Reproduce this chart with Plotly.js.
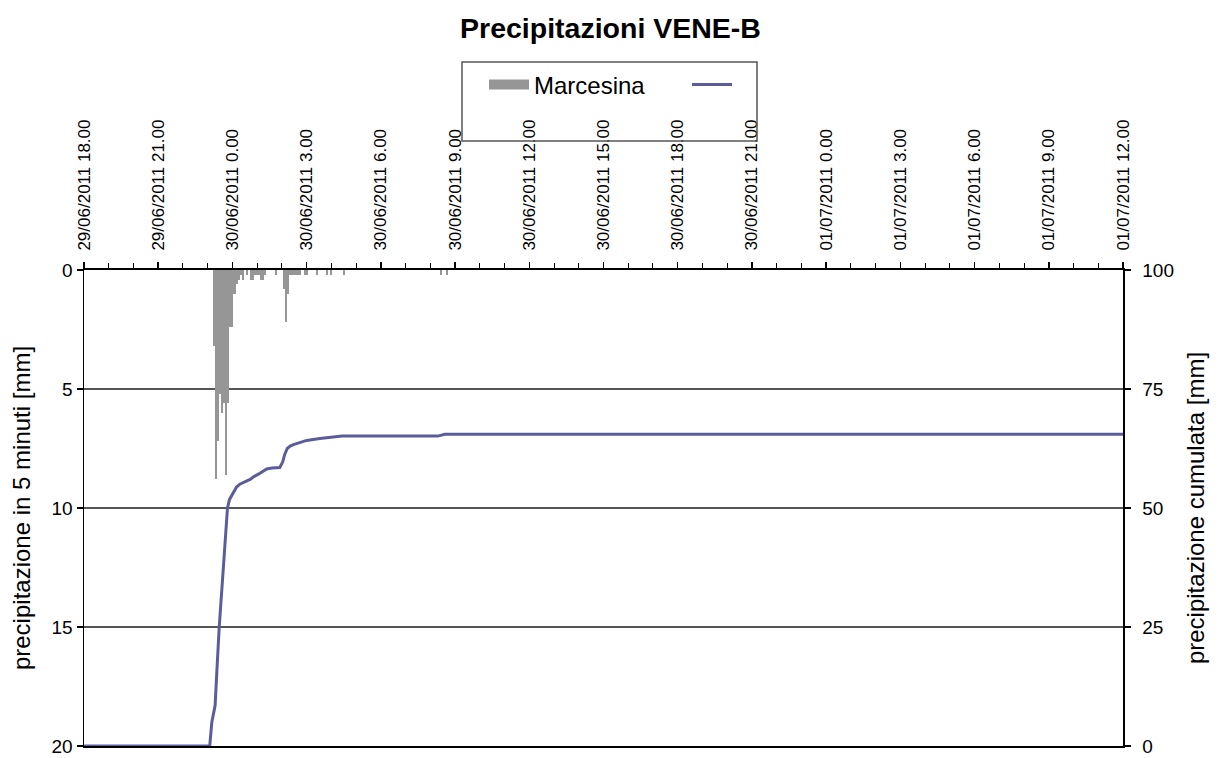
<!DOCTYPE html>
<html><head><meta charset="utf-8">
<script src="https://cdn.plot.ly/plotly-3.0.1.min.js"></script>
<style>html,body{margin:0;padding:0;background:#fff}#chart{width:1221px;height:758px}</style>
</head><body><div id="chart"></div>
<script>
// 5-minute precipitation, Marcesina [mm]
const barTimes = [
  "2011-06-29 23:15","2011-06-29 23:20","2011-06-29 23:25","2011-06-29 23:30","2011-06-29 23:35",
  "2011-06-29 23:40","2011-06-29 23:45","2011-06-29 23:50","2011-06-29 23:55","2011-06-30 00:00",
  "2011-06-30 00:05","2011-06-30 00:10","2011-06-30 00:15","2011-06-30 00:20","2011-06-30 00:25",
  "2011-06-30 00:35","2011-06-30 00:45","2011-06-30 00:50","2011-06-30 00:55","2011-06-30 01:00",
  "2011-06-30 01:05","2011-06-30 01:10","2011-06-30 01:15","2011-06-30 01:20","2011-06-30 01:45",
  "2011-06-30 02:05","2011-06-30 02:10","2011-06-30 02:15","2011-06-30 02:20","2011-06-30 02:25",
  "2011-06-30 02:30","2011-06-30 02:35","2011-06-30 02:40","2011-06-30 02:45","2011-06-30 02:55",
  "2011-06-30 03:00","2011-06-30 03:25","2011-06-30 03:50","2011-06-30 04:00","2011-06-30 04:30",
  "2011-06-30 08:25","2011-06-30 08:40"
];
const barValues = [
  3.2, 8.8, 7.2, 5.2, 6.0,
  5.6, 8.6, 5.6, 2.4, 2.4,
  1.0, 0.6, 0.4, 0.2, 0.4,
  0.2, 0.4, 0.4, 0.2, 0.2,
  0.2, 0.4, 0.4, 0.2, 0.2,
  0.8, 2.2, 1.0, 0.2, 0.2,
  0.2, 0.2, 0.2, 0.2, 0.2,
  0.2, 0.2, 0.2, 0.2, 0.2,
  0.2, 0.2
];

// cumulated precipitation [mm]
const cumTimes = [
  "2011-06-29 18:00","2011-06-29 23:05","2011-06-29 23:10","2011-06-29 23:18","2011-06-29 23:23",
  "2011-06-29 23:28","2011-06-29 23:38","2011-06-29 23:44","2011-06-29 23:48","2011-06-29 23:53",
  "2011-06-30 00:02","2011-06-30 00:10","2011-06-30 00:18","2011-06-30 00:26","2011-06-30 00:35",
  "2011-06-30 00:43","2011-06-30 00:52","2011-06-30 01:03","2011-06-30 01:12","2011-06-30 01:23",
  "2011-06-30 01:36","2011-06-30 01:55","2011-06-30 02:02","2011-06-30 02:07","2011-06-30 02:13",
  "2011-06-30 02:20","2011-06-30 02:28","2011-06-30 02:44","2011-06-30 03:00","2011-06-30 03:32",
  "2011-06-30 03:57","2011-06-30 04:26","2011-06-30 08:18","2011-06-30 08:35","2011-07-01 12:00"
];
const cumValues = [
  0, 0, 5, 8.5, 17,
  25, 37.5, 45, 50, 51.8,
  53.1, 54.4, 55.0, 55.4, 55.7,
  56.0, 56.6, 57.1, 57.6, 58.2,
  58.4, 58.5, 59.7, 61.3, 62.5,
  63.0, 63.3, 63.8, 64.2, 64.6,
  64.8, 65.1, 65.1, 65.5, 65.5
];

const tickTimes = [
  "2011-06-29 18:00","2011-06-29 21:00","2011-06-30 00:00","2011-06-30 03:00","2011-06-30 06:00",
  "2011-06-30 09:00","2011-06-30 12:00","2011-06-30 15:00","2011-06-30 18:00","2011-06-30 21:00",
  "2011-07-01 00:00","2011-07-01 03:00","2011-07-01 06:00","2011-07-01 09:00","2011-07-01 12:00"
];
const tickLabels = [
  "29/06/2011 18.00","29/06/2011 21.00","30/06/2011 0.00","30/06/2011 3.00","30/06/2011 6.00",
  "30/06/2011 9.00","30/06/2011 12.00","30/06/2011 15.00","30/06/2011 18.00","30/06/2011 21.00",
  "01/07/2011 0.00","01/07/2011 3.00","01/07/2011 6.00","01/07/2011 9.00","01/07/2011 12.00"
];
const leftTicks = [0, 5, 10, 15, 20];
const rightTicks = [0, 25, 50, 75, 100];

const FONT = "'Liberation Sans', Arial, sans-serif";

const traces = [
  {type:'bar', x: barTimes, y: barValues, width: 300000, xaxis:'x', yaxis:'y',
   marker:{color:'#969696', line:{width:0}}, showlegend:false, hoverinfo:'x+y'},
  {type:'scatter', mode:'lines', x:[null], y:[null], xaxis:'x', yaxis:'y', name:'Marcesina',
   line:{color:'#969696', width:13}, showlegend:true, hoverinfo:'skip'},
  {type:'scatter', mode:'lines', x: cumTimes, y: cumValues, xaxis:'x', yaxis:'y2', name:' ',
   line:{color:'#5c5c9c', width:3}, showlegend:true}
];

const layout = {
  width:1221, height:758,
  margin:{l:84, r:98, t:270, b:12, pad:0},
  paper_bgcolor:'#ffffff', plot_bgcolor:'#ffffff',
  font:{family:FONT, color:'#000'},
  bargap:0,
  title:{text:'<b>Precipitazioni VENE-B</b>', font:{family:FONT, size:28.5, color:'#000'},
         x:0.5, xanchor:'center', y:1-28/758, yanchor:'middle', xref:'container', yref:'container'},
  xaxis:{type:'date', side:'top', range:['2011-06-29 18:00','2011-07-01 12:00'],
         tickmode:'array', tickvals:tickTimes, ticktext:tickLabels, tickangle:-90,
         ticks:'outside', ticklen:6, tickwidth:1.5, tickcolor:'#000', ticklabelstandoff:8,
         tickfont:{family:FONT, size:17, color:'#000'}, ticklabeloverflow:'allow',
         showline:true, linecolor:'#000', linewidth:2, mirror:true,
         showgrid:false, zeroline:false,
         minor:{tickmode:'linear', tick0:'2011-06-29 18:00', dtick:3600000, ticks:'outside',
                ticklen:5, tickwidth:1, tickcolor:'#000', showgrid:false}},
  yaxis:{range:[20,0], tickmode:'array', tickvals:leftTicks, ticks:'outside', ticklen:6,
         tickwidth:1.5, tickcolor:'#000', tickfont:{family:FONT, size:19, color:'#000'},
         ticklabeloverflow:'allow',
         showline:true, linecolor:'#000', linewidth:1.5,
         showgrid:true, gridcolor:'#555555', gridwidth:1.3, zeroline:false,
         title:{text:'precipitazione in 5 minuti [mm]', font:{family:FONT, size:24, color:'#000'}, standoff:14}},
  yaxis2:{overlaying:'y', side:'right', range:[0,100], tickmode:'array', tickvals:rightTicks,
          ticks:'outside', ticklen:6, tickwidth:1.5, tickcolor:'#000', ticklabelstandoff:8,
          tickfont:{family:FONT, size:19, color:'#000'}, ticklabeloverflow:'allow',
          showline:true, linecolor:'#000', linewidth:1.5, showgrid:false, zeroline:false,
          title:{text:'precipitazione cumulata [mm]', font:{family:FONT, size:24, color:'#000'}, standoff:14}},
  legend:{orientation:'h', x:(484-84)/1039, xanchor:'left', y:1+(746-85)/476, yanchor:'middle',
          bgcolor:'rgba(0,0,0,0)', borderwidth:0, font:{family:FONT, size:24, color:'#000'},
          itemwidth:40, entrywidthmode:'pixels', entrywidth:148, traceorder:'normal'},
  shapes:[{type:'rect', xref:'paper', yref:'paper',
           x0:(462-84)/1039, x1:(757-84)/1039, y0:(746-141)/476, y1:(746-62)/476,
           line:{color:'#555555', width:1.5}, fillcolor:'rgba(0,0,0,0)', layer:'above'}],
  showlegend:true
};
layout.legend.y = (746-85)/476;

Plotly.newPlot('chart', traces, layout, {displayModeBar:false, staticPlot:true});
</script>
</body></html>
